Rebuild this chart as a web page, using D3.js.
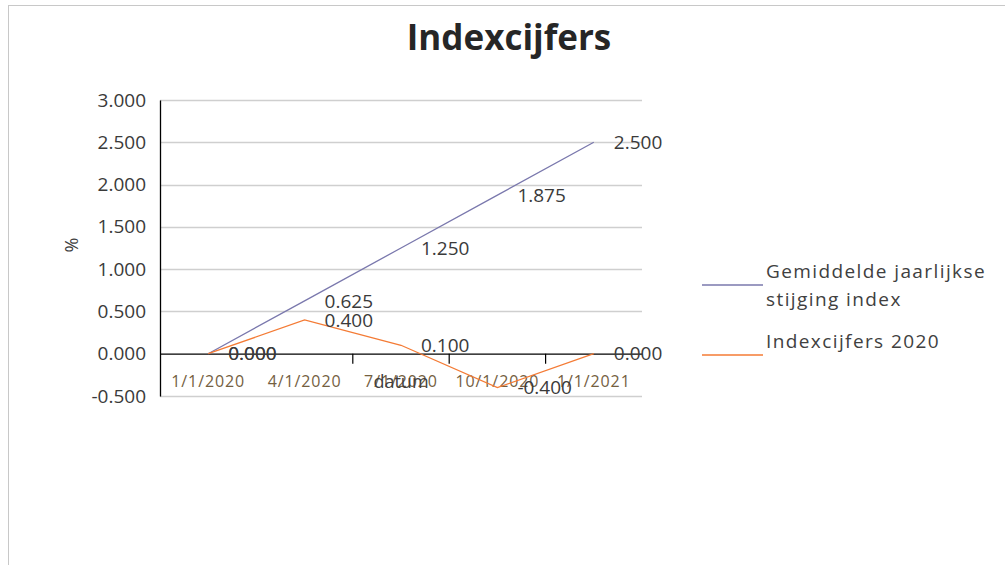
<!DOCTYPE html>
<html>
<head>
<meta charset="utf-8">
<script src="https://cdn.jsdelivr.net/npm/d3@7"></script>
<style>
  body { margin: 0; background: #fff; }
  text { font-family: "Open Sans", sans-serif; }
</style>
</head>
<body>
<script>
// data
let categories = ["1/1/2020", "4/1/2020", "7/1/2020", "10/1/2020", "1/1/2021"];
let gemiddelde = [0, 0.625, 1.25, 1.875, 2.5];
let indexcijfers = [0, 0.4, 0.1, -0.4, 0];
let y_ticks = [-0.5, 0, 0.5, 1, 1.5, 2, 2.5, 3];
let series_names = [["Gemiddelde jaarlijkse", "stijging index"], ["Indexcijfers 2020"]];
let series_colors = ["#7a78ad", "#f47b35"];

let width = 1005, height = 565;
let margin = { top: 100, right: 363, bottom: 169, left: 160 };

// excel style number, plain hyphen for negatives
let fmt = d => d3.format(".3f")(d).replace("\u2212", "-");

let svg = d3.select("body")
  .append("svg")
    .attr("width", width)
    .attr("height", height);

// frame of the chart area
svg.append("line").attr("x1", 8).attr("x2", width).attr("y1", 5.5).attr("y2", 5.5).attr("stroke", "#c8c8c8");
svg.append("line").attr("x1", 8.5).attr("x2", 8.5).attr("y1", 5).attr("y2", height).attr("stroke", "#c8c8c8");

let x = d3.scaleBand()
  .domain(categories)
  .range([margin.left, width - margin.right])
  .padding(0);

let y = d3.scaleLinear()
  .domain([-0.5, 3])
  .range([height - margin.bottom, margin.top]);

let cx = d => x(d) + x.bandwidth() / 2;

// gridlines
svg.append("g")
  .selectAll("line")
  .data(y_ticks.filter(t => t != 0))
  .join("line")
    .attr("x1", margin.left).attr("x2", width - margin.right)
    .attr("y1", d => Math.round(y(d)) + 0.5).attr("y2", d => Math.round(y(d)) + 0.5)
    .attr("stroke", "#cfcfcf").attr("stroke-width", 1.5);

// y axis
let yaxis = svg.append("g")
  .attr("transform", `translate(${margin.left},0)`)
  .call(d3.axisLeft(y).tickValues(y_ticks).tickSize(0).tickPadding(14).tickFormat(fmt));
yaxis.select(".domain").attr("stroke", "#000").attr("stroke-width", 1.3);
yaxis.selectAll("text").attr("font-size", 19).attr("fill", "#3a3a3a").attr("font-family", "Open Sans");

// x axis on zero
let xaxis = svg.append("g")
  .attr("transform", `translate(0,${y(0)})`)
  .call(d3.axisBottom(x).tickSize(0).tickPadding(22));
xaxis.select(".domain").attr("stroke", "#000").attr("stroke-width", 1.3);
xaxis.selectAll("text").attr("font-size", 16).attr("letter-spacing", 0.9)
  .attr("fill", "#74603f").attr("font-family", "Open Sans");
xaxis.selectAll(".tick").attr("transform", d => `translate(${cx(d)},0)`);

// tick marks between categories
svg.append("g")
  .selectAll("line")
  .data(categories.slice(2))
  .join("line")
    .attr("x1", d => x(d)).attr("x2", d => x(d))
    .attr("y1", y(0)).attr("y2", y(0) + 10)
    .attr("stroke", "#000").attr("stroke-width", 1.2);

// axis titles
svg.append("text")
  .attr("x", (margin.left + width - margin.right) / 2).attr("y", 388)
  .attr("text-anchor", "middle").attr("font-size", 18).attr("fill", "#404040")
  .text("datum");

svg.append("text")
  .attr("transform", `translate(78,245) rotate(-90)`)
  .attr("text-anchor", "middle").attr("font-size", 18).attr("fill", "#404040")
  .text("%");

// title
svg.append("text")
  .attr("x", 509).attr("y", 50)
  .attr("text-anchor", "middle").attr("font-size", 35).attr("font-weight", "bold").attr("fill", "#262626")
  .text("Indexcijfers");

// lines + labels
let line = d3.line().x((d, i) => cx(categories[i])).y(d => y(d));

[gemiddelde, indexcijfers].forEach((s, k) => {
  svg.append("path")
    .datum(s)
    .attr("d", line)
    .attr("fill", "none")
    .attr("stroke", series_colors[k])
    .attr("stroke-width", 1.3);
  svg.append("g")
    .selectAll("text")
    .data(s)
    .join("text")
      .attr("x", (d, i) => cx(categories[i]) + 20)
      .attr("y", d => y(d))
      .attr("dy", "0.35em")
      .attr("font-size", 19).attr("fill", "#3a3a3a")
      .text(fmt);
});

// legend
let legend_y = [285, 355];
series_names.forEach((nm, k) => {
  svg.append("line")
    .attr("x1", 702).attr("x2", 763)
    .attr("y1", legend_y[k]).attr("y2", legend_y[k])
    .attr("stroke", series_colors[k]).attr("stroke-width", 1.5);
  let t = svg.append("text")
    .attr("x", 766).attr("font-size", 19).attr("fill", "#404040")
    .attr("letter-spacing", 1.4);
  nm.forEach((part, j) => {
    t.append("tspan").attr("x", 766).attr("y", legend_y[k] - 7 + j * 28).text(part);
  });
});
</script>
</body>
</html>
